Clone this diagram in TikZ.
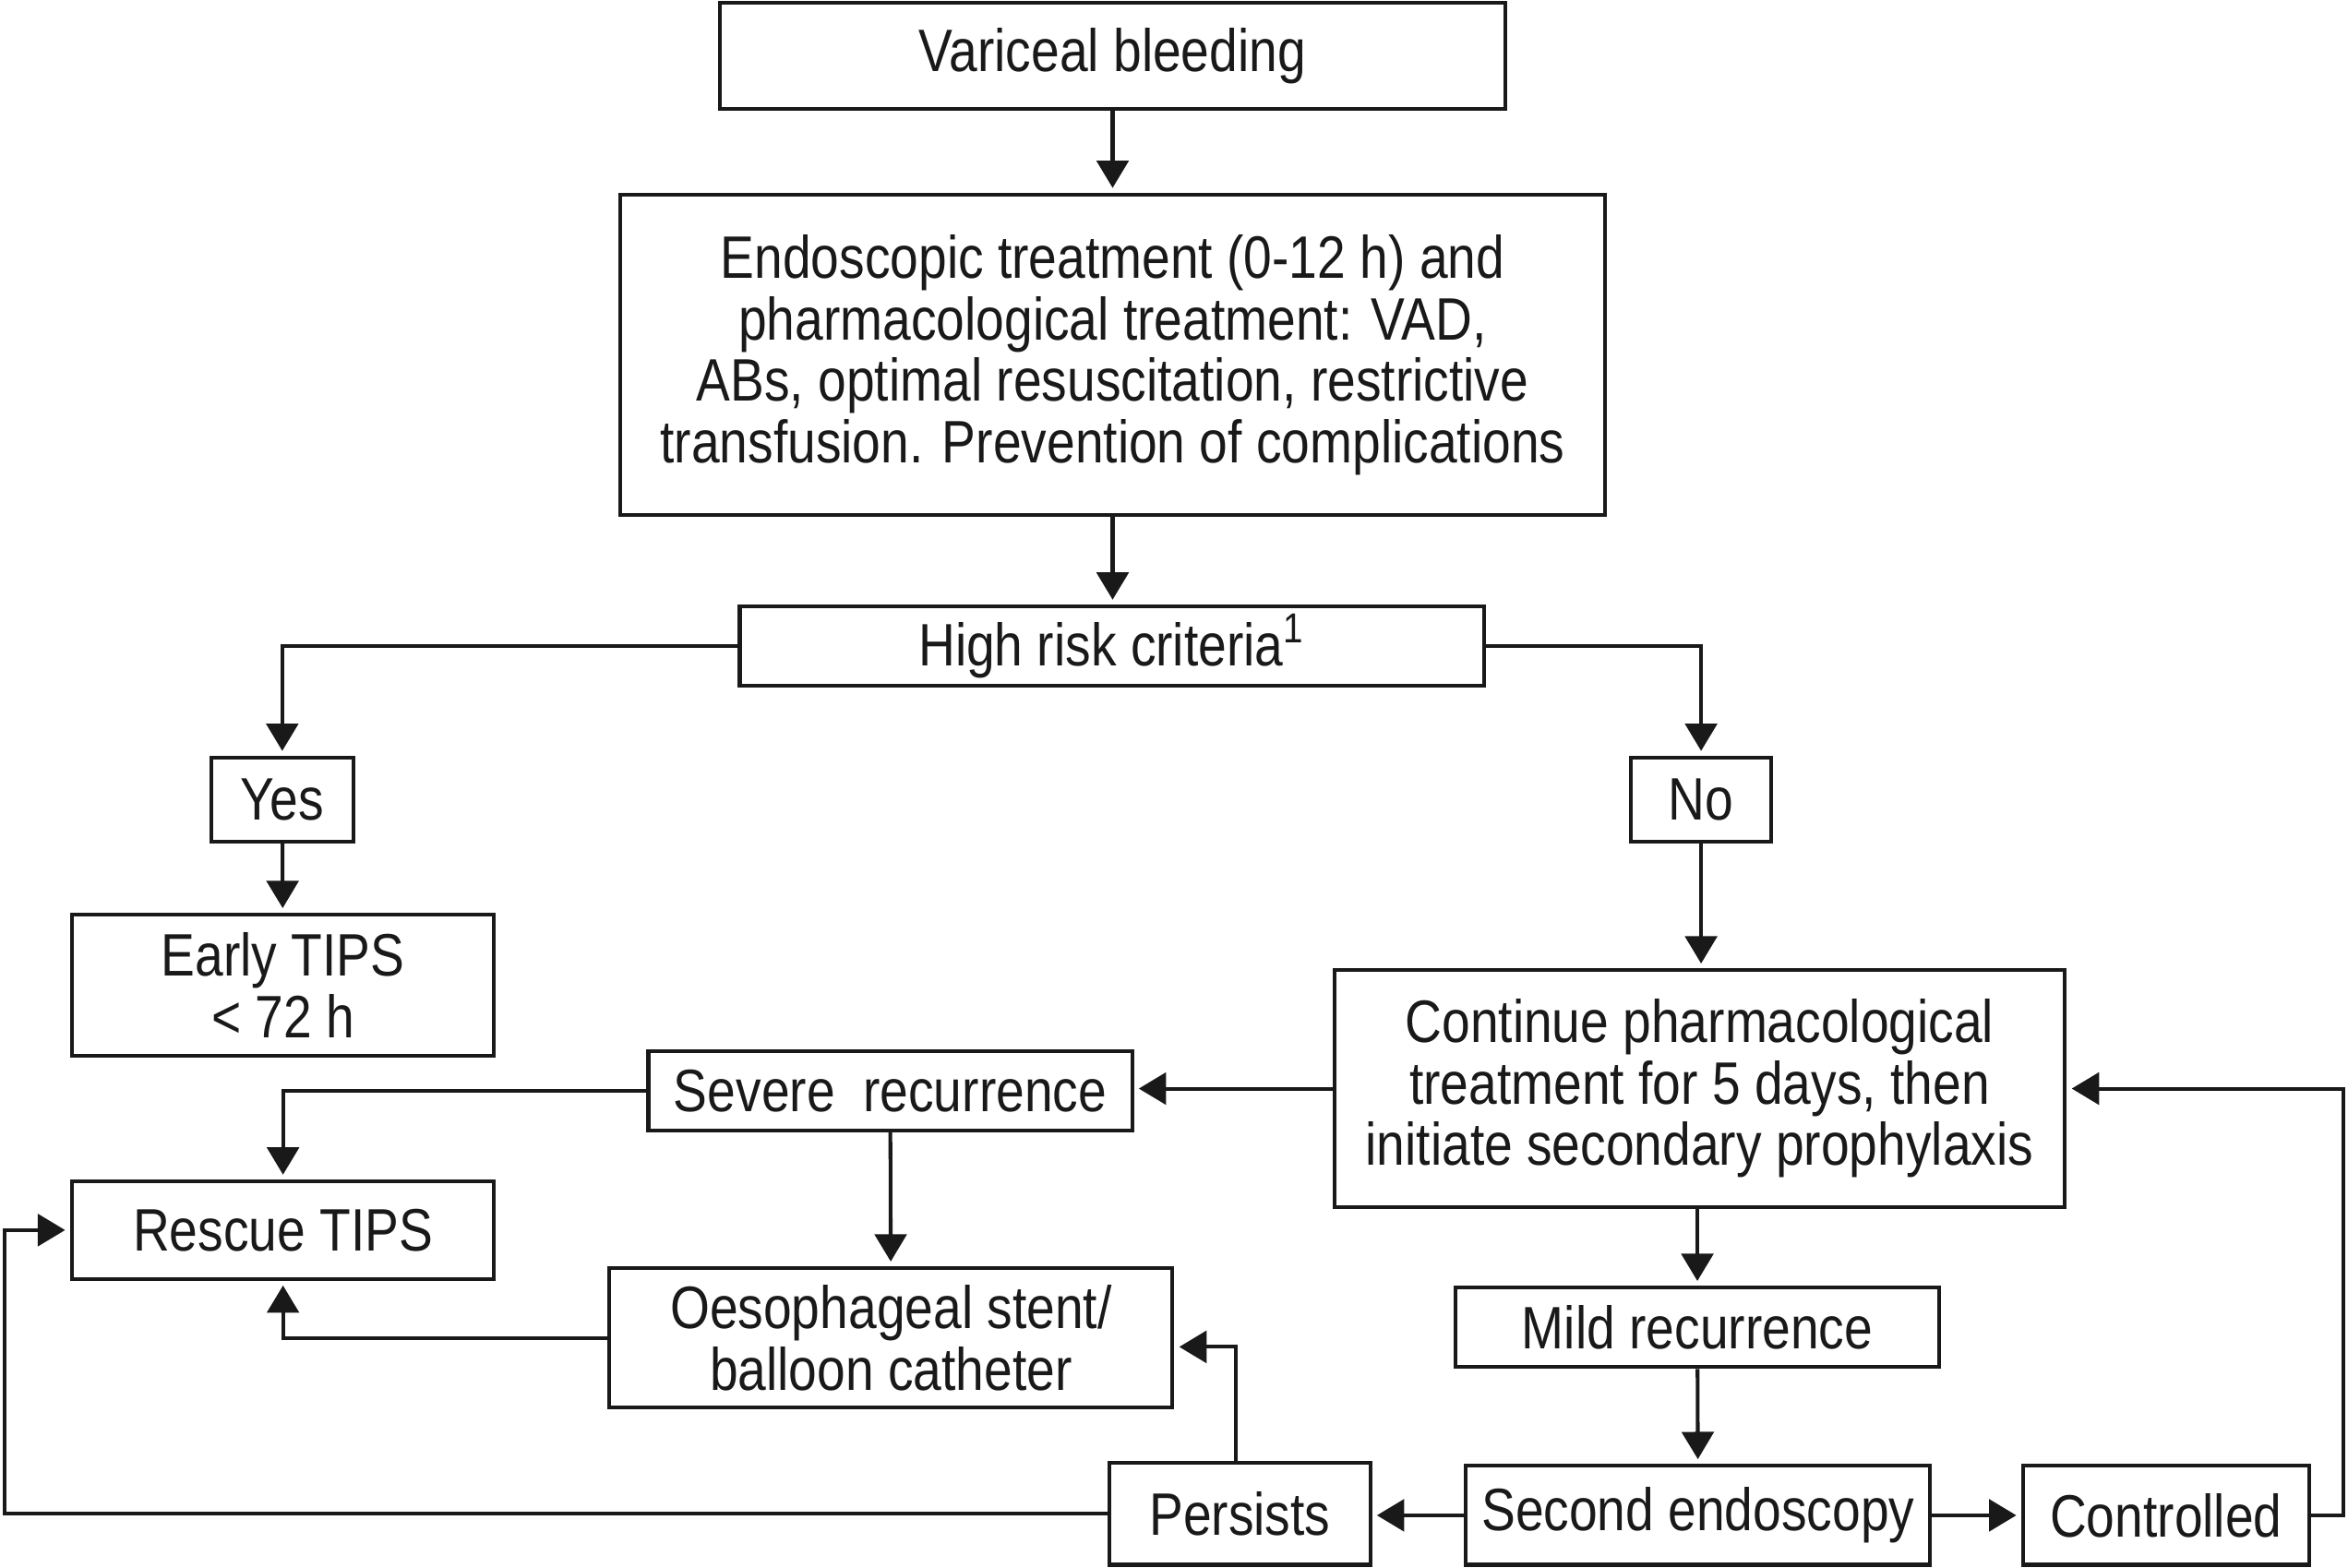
\documentclass[tikz,border=0pt]{standalone}
\usepackage{fontspec}
\setmainfont{Liberation Sans}[FakeStretch=0.85]
\usetikzlibrary{arrows.meta}
\begin{document}
\begin{tikzpicture}[x=0.4pt,y=-0.4pt,
  bx/.style 2 args={draw=black!90, line width=1pt, minimum width=#1*0.4pt, minimum height=#2*0.4pt, inner sep=0pt, align=center, font=\fontsize{16}{16.4}\selectfont, text=black!90},
  conn/.style={draw=black!90, line width=1pt},
  arr/.style={conn, -{Triangle[length=7.3pt,width=8.5pt]}, shorten >=1.3pt}]
\useasboundingbox (0,0) rectangle (1568,1047);
\node[bx={524}{71}] (var) at (743,37.5) {Variceal bleeding};
\node[bx={658}{214}] (endo) at (743,237) {Endoscopic treatment (0-12 h) and\\pharmacological treatment: VAD,\\ABs, optimal resuscitation, restrictive\\transfusion. Prevention of complications};
\node[bx={497}{53}] (high) at (742.5,431.5) {High risk criteria\textsuperscript{1}};
\node[bx={95}{56}] (yes) at (188.5,534) {Yes};
\node[bx={94}{56}] (no) at (1136,534) {No};
\node[bx={282}{94}] (early) at (189,658) {Early TIPS\\< 72 h};
\node[bx={488}{158}] (cont) at (1135,727) {Continue pharmacological\\treatment for 5 days, then\\initiate secondary prophylaxis};
\node[bx={323}{53}] (severe) at (594.5,728.5) {Severe\ \ recurrence};
\node[bx={282}{65}] (rescue) at (189,821.5) {Rescue TIPS};
\node[bx={376}{93}] (oeso) at (595,893.5) {Oesophageal stent/\\balloon catheter};
\node[bx={323}{53}] (mild) at (1133.5,886.5) {Mild recurrence};
\node[bx={174}{68}] (pers) at (828,1011) {Persists};
\node[bx={310}{66}] (second) at (1134,1012) {Second endoscopy};
\node[bx={191}{66}] (ctrl) at (1446.5,1012) {Controlled};
\coordinate (lft) at (3,0);
\coordinate (rgt) at (1565,0);
\draw[arr] (var) -- (endo);
\draw[arr] (endo.south) -- (endo.south |- high.north);
\draw[arr] (high.west) -| (yes.north);
\draw[arr] (high.east) -| (no.north);
\draw[arr] (yes) -- (early);
\draw[arr] (no.south) -- (no.south |- cont.north);
\draw[arr] (cont.west) -- (cont.west -| severe.east);
\draw[arr] (severe.west) -| (rescue.north);
\draw[arr] (severe) -- (oeso);
\draw[arr] (oeso.west) -| (rescue.south);
\draw[arr] (mild.north |- cont.south) -- (mild.north);
\draw[arr] (mild) -- (second);
\draw[arr] (second.west) -- (second.west -| pers.east);
\draw[arr] (second.east) -- (second.east -| ctrl.west);
\draw[arr] ([xshift=-1.2pt]pers.north) |- ([yshift=-2.4pt]oeso.east);
\draw[arr] (pers.west) -- (pers.west -| lft) |- (rescue.west);
\draw[arr] (ctrl.east) -- (ctrl.east -| rgt) |- (cont.east);
\end{tikzpicture}
\end{document}
